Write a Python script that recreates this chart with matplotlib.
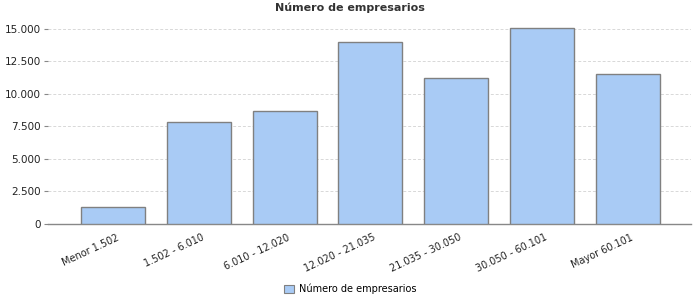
import matplotlib
matplotlib.use("Agg")
import matplotlib.pyplot as plt
from matplotlib.patches import Patch
from matplotlib.ticker import FuncFormatter, MultipleLocator
import matplotlib.transforms as mtransforms

categories = ["Menor 1.502", "1.502 - 6.010", "6.010 - 12.020", "12.020 - 21.035",
              "21.035 - 30.050", "30.050 - 60.101", "Mayor 60.101"]
values = [1290, 7820, 8670, 13970, 11210, 15050, 11510]
series_name = "Número de empresarios"
title = "Número de empresarios"

fig = plt.figure(figsize=(7, 3), dpi=100)
ax = fig.add_axes([48/700, 1-224/300, (691-48)/700, (224-20)/300])

x = list(range(len(categories)))
ax.bar(x, values, width=0.747, color="#A9CBF5", edgecolor="#808080", linewidth=1.0, zorder=3)

ax.set_xlim(-0.76, len(categories) - 1 + 0.74)
ax.set_ylim(0, 15690)
ax.yaxis.set_major_locator(MultipleLocator(2500))
ax.yaxis.set_major_formatter(FuncFormatter(lambda v, p: f"{int(v):,}".replace(",", ".")))
ax.grid(axis="y", color="#d8d8d8", linestyle=(0, (3, 2)), linewidth=0.7, zorder=0)

for s in ["top", "right", "left"]:
    ax.spines[s].set_visible(False)
ax.spines["bottom"].set_color("#888888")
ax.spines["bottom"].set_linewidth(1.0)

ax.tick_params(axis="y", length=3, color="#888888", labelsize=7.5, pad=2, labelcolor="#222222")
ax.tick_params(axis="x", length=0, labelsize=7, pad=6, labelcolor="#222222")
ax.set_xticks(x)
ax.set_xticklabels(categories, rotation=25, ha="right", rotation_mode="anchor")
offset = mtransforms.ScaledTranslation(2/72, 0, fig.dpi_scale_trans)
for lbl in ax.get_xticklabels():
    lbl.set_transform(lbl.get_transform() + offset)

fig.text(0.5, 1-8/300, title, ha="center", va="center", fontsize=8, fontweight="bold", color="#333333")

handle = Patch(facecolor="#A9CBF5", edgecolor="#808080", linewidth=0.8)
fig.legend([handle], [series_name], loc="center", bbox_to_anchor=(0.5, 1-289/300),
           frameon=False, fontsize=7, handlelength=1.0, handleheight=1.0, handletextpad=0.5)

fig.savefig("out.png", dpi=100)
